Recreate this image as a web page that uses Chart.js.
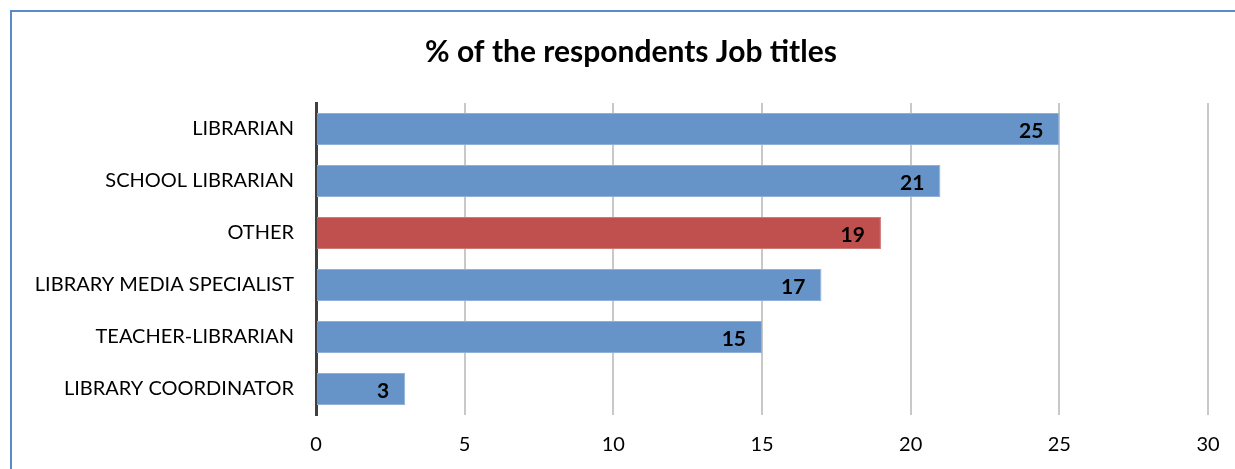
<!DOCTYPE html>
<html>
<head>
<meta charset="utf-8">
<script src="https://cdn.jsdelivr.net/npm/chart.js@4"></script>
<style>
    html, body { margin: 0; padding: 0; background: #fff; overflow: hidden; }
    #cadre {
        position: absolute;
        left: 10px;
        top: 10px;
        width: 1238px;
        height: 470px;
        border-left: 2px solid #5b8ac6;
        border-top: 2px solid #5b8ac6;
    }
    canvas { display: block; }
</style>
</head>
<body>
<div id="cadre">
    <canvas id="graphique_job" width="1238" height="460"></canvas>
</div>
<script>
    // DONNEES
    const titre = "% of the respondents Job titles";
    const categories = ["LIBRARIAN", "SCHOOL LIBRARIAN", "OTHER", "LIBRARY MEDIA SPECIALIST", "TEACHER-LIBRARIAN", "LIBRARY COORDINATOR"];
    const pourcentages = [25, 21, 19, 17, 15, 3];
    const ticksX = [0, 5, 10, 15, 20, 25, 30];
    const categorieMiseEnAvant = "OTHER";

    const bleu = "#6794c8";
    const rouge = "#c0504d";

    const couleurs = categories.map(c => c === categorieMiseEnAvant ? rouge : bleu);
    const bordures = categories.map(c => c === categorieMiseEnAvant ? "#d07a77" : "#8eb0da");

    const police = "Lato, 'Open Sans', sans-serif";

    // TITRE CENTRE SUR TOUTE LA LARGEUR DU CADRE
    const titreCentre = {
        id: 'titreCentre',
        afterDraw(chart) {
            const ctx = chart.ctx;
            ctx.save();
            ctx.font = "bold 30px " + police;
            ctx.fillStyle = "#000";
            ctx.textAlign = "center";
            ctx.textBaseline = "middle";
            ctx.fillText(titre, chart.width / 2, 40);
            ctx.restore();
        }
    };

    // ETIQUETTES DE VALEUR A L'INTERIEUR DES BARRES
    const etiquettesBarres = {
        id: 'etiquettesBarres',
        afterDatasetsDraw(chart) {
            const ctx = chart.ctx;
            const meta = chart.getDatasetMeta(0);
            ctx.save();
            ctx.font = "bold 21px " + police;
            ctx.fillStyle = "#000";
            ctx.textAlign = "right";
            ctx.textBaseline = "middle";
            meta.data.forEach(function (barre, i) {
                ctx.fillText(String(pourcentages[i]), barre.x - 16, barre.y + 2);
            });
            ctx.restore();
        }
    };

    const graph = document.getElementById('graphique_job').getContext('2d');

    new Chart(graph, {
        type: 'bar',
        data: {
            labels: categories,
            datasets: [{
                data: pourcentages,
                backgroundColor: couleurs,
                borderColor: bordures,
                borderWidth: 1,
                categoryPercentage: 1,
                barPercentage: 0.62,
            }]
        },
        options: {
            indexAxis: 'y',
            responsive: false,
            animation: false,
            layout: {
                padding: { left: 0, right: 42, top: 91, bottom: 0 }
            },
            plugins: {
                legend: { display: false },
                tooltip: { enabled: false },
                title: { display: false },
            },
            scales: {
                x: {
                    min: 0,
                    max: 30,
                    afterBuildTicks: function (scale) {
                        scale.ticks = ticksX.map(v => ({ value: v }));
                    },
                    afterFit: function (scale) {
                        scale.height = 57;
                    },
                    ticks: {
                        color: "#000",
                        font: { family: police, size: 20 },
                        padding: 18,
                    },
                    grid: {
                        color: "#c8c8c8",
                        lineWidth: 2,
                        drawTicks: false,
                    },
                    border: { display: false },
                },
                y: {
                    afterFit: function (scale) {
                        scale.width = 304;
                    },
                    ticks: {
                        color: "#000",
                        font: { family: police, size: 20 },
                        padding: 22,
                    },
                    grid: { display: false, drawTicks: false },
                    border: { display: true, color: "#404040", width: 3 },
                },
            },
        },
        plugins: [etiquettesBarres, titreCentre],
    });
</script>
</body>
</html>
